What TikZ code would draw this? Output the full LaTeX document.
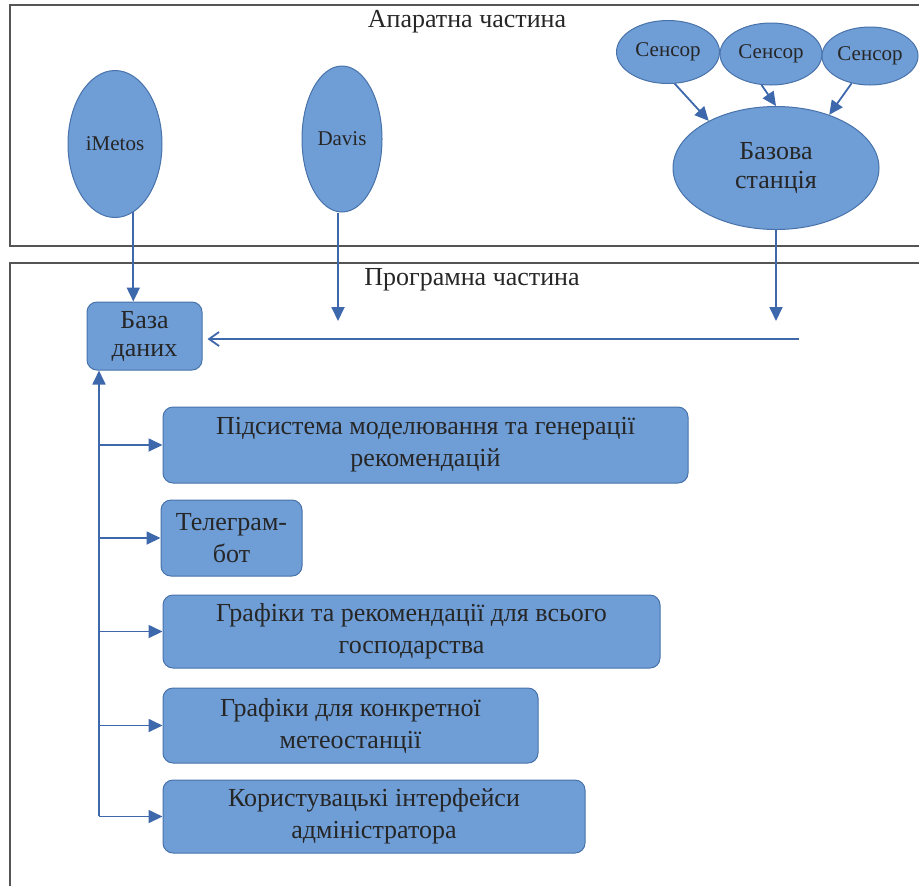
\documentclass[tikz,border=0pt]{standalone}
\usepackage{fontspec}
\setmainfont{Liberation Serif}
\usetikzlibrary{shapes.geometric,arrows.meta}
\definecolor{boxfill}{RGB}{111,157,214}
\definecolor{boxline}{RGB}{72,114,170}
\definecolor{arrowblue}{RGB}{62,104,172}
\definecolor{framegray}{RGB}{85,85,85}
\tikzset{
  blob/.style={ellipse, draw=boxline, fill=boxfill, line width=0.5pt, inner sep=0pt, text=black!85, font=\fontsize{10.5}{13}\selectfont},
  bigblob/.style={blob, align=center, font=\fontsize{13}{14.5}\selectfont},
  block/.style={rectangle, rounded corners=5pt, draw=boxline, fill=boxfill, line width=0.5pt, inner sep=0pt, align=center, text=black!85, font=\fontsize{13}{16}\selectfont},
  flow/.style={draw=arrowblue, line width=0.9pt, -{Triangle[length=7pt,width=6.5pt]}},
  openflow/.style={draw=arrowblue, line width=0.9pt, -{Straight Barb[length=5pt,width=7pt]}},
  frame/.style={draw=framegray, line width=0.8pt},
  title/.style={text=black!85, font=\fontsize{13}{16}\selectfont}
}
\begin{document}
\begin{tikzpicture}[x=0.5pt,y=-0.5pt]
\useasboundingbox (0,0) rectangle (919,885);
% Frames
\draw[frame] (925,5) -- (10,5) -- (10,246) -- (925,246);
\draw[frame] (925,263) -- (10,263) -- (10,900);
% Labels
\node[title] (hwlabel) at (467,22) {Апаратна частина};
\node[title] (swlabel) at (472,280) {Програмна частина};
% Stations
\node[blob, minimum width=47pt, minimum height=73.5pt] (imetos) at (115,144) {iMetos};
\node[blob, minimum width=40pt, minimum height=73pt] (davis) at (342,139) {Davis};
\node[blob, minimum width=51.5pt, minimum height=31.5pt] (sensA) at (668,52) {Сенсор};
\node[blob, minimum width=51pt, minimum height=31pt] (sensB) at (771,54) {Сенсор};
\node[blob, minimum width=48pt, minimum height=29pt] (sensC) at (870,56) {Сенсор};
\node[bigblob, minimum width=103pt, minimum height=61.5pt] (base) at (776,168) {Базова\\станція};
% Software
\node[block, minimum width=57.5pt, minimum height=34pt, font=\fontsize{13}{14}\selectfont] (db) at (144.5,336) {База\\даних};
\node[block, minimum width=262.5pt, minimum height=38pt] (model) at (425.5,445) {Підсистема моделювання та генерації\\рекомендацій};
\node[block, minimum width=70.5pt, minimum height=38pt] (bot) at (231.5,538) {Телеграм-\\бот};
\node[block, minimum width=248.5pt, minimum height=36.5pt] (farm) at (411.5,631.5) {Графіки та рекомендації для всього\\господарства};
\node[block, minimum width=187.5pt, minimum height=37.5pt] (station) at (350.5,725.5) {Графіки для конкретної\\метеостанції};
\node[block, minimum width=211pt, minimum height=36.5pt] (admin) at (374,816.5) {Користувацькі інтерфейси\\адміністратора};
% Sensors to base
\draw[flow] (sensA.-78) -- (base.145);
\draw[flow] (sensB.-107) -- (base.north);
\draw[flow] (sensC.-124) -- (base.45);
% Into the database
\draw[flow] (imetos.-75) -- (imetos.-75 |- db.north);
\coordinate (davisin) at (338,321);
\draw[flow] (davisin |- davis.south) -- (davisin);
\coordinate (basein) at (776,321);
\draw[flow] (base.south) -- (basein);
\coordinate (busend) at (799,339);
\draw[openflow] (busend) -- ([xshift=2.5pt]busend -| db.east);
% Bus
\coordinate (busbottom) at (99,816);
\draw[flow] (busbottom) -- (busbottom |- db.south);
\foreach \bx in {model,bot,farm,station,admin}
  \draw[flow] (busbottom |- \bx.west) -- (\bx.west);
\end{tikzpicture}
\end{document}
